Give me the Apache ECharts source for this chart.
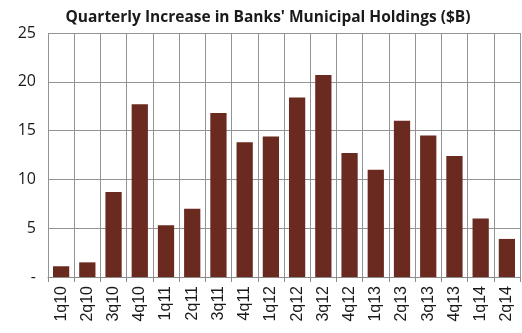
<!DOCTYPE html>
<html><head><meta charset="utf-8">
<script src="https://cdn.jsdelivr.net/npm/echarts@6/dist/echarts.min.js"></script>
<style>html,body{margin:0;padding:0;background:#fff}#c{width:522px;height:333px}</style>
</head><body><div id="c"></div>
<script>
const categories = ["1q10","2q10","3q10","4q10","1q11","2q11","3q11","4q11","1q12","2q12","3q12","4q12","1q13","2q13","3q13","4q13","1q14","2q14"];
const increase = [1.1,1.5,8.7,17.7,5.3,7.0,16.8,13.8,14.4,18.4,20.7,12.7,11.0,16.0,14.5,12.4,6.0,3.9];
const yTicks = [0,5,10,15,20,25];
const titleText = "Quarterly Increase in Banks' Municipal Holdings ($B)";

const chart = echarts.init(document.getElementById('c'));
chart.setOption({
  animation:false,
  title:{text:titleText,left:263,top:5,textAlign:'center',
    textStyle:{fontFamily:'Open Sans',fontWeight:'bold',fontSize:15.5,color:'#1a1a1a'}},
  grid:{left:48,right:2,top:33,bottom:56},
  xAxis:{type:'category',data:categories,
    axisLine:{lineStyle:{color:'#8a8a8a',width:1}},
    axisTick:{show:true,length:5,lineStyle:{color:'#8a8a8a'}},
    splitLine:{show:true,lineStyle:{color:'#939393',width:1}},
    axisLabel:{rotate:90,fontFamily:'Liberation Sans',fontSize:16,color:'#1a1a1a',margin:9}},
  yAxis:{type:'value',min:0,max:25,interval:5,
    axisLine:{show:false},axisTick:{show:false},
    splitLine:{lineStyle:{color:'#939393',width:1}},
    axisLabel:{fontFamily:'Open Sans',fontSize:16,color:'#1a1a1a',margin:12,
      formatter:v=> yTicks.indexOf(v)===0 ? '-' : String(v)}},
  series:[{type:'bar',data:increase,barCategoryGap:'38%',
    itemStyle:{color:'#6b2a20'}}]
});
</script></body></html>
